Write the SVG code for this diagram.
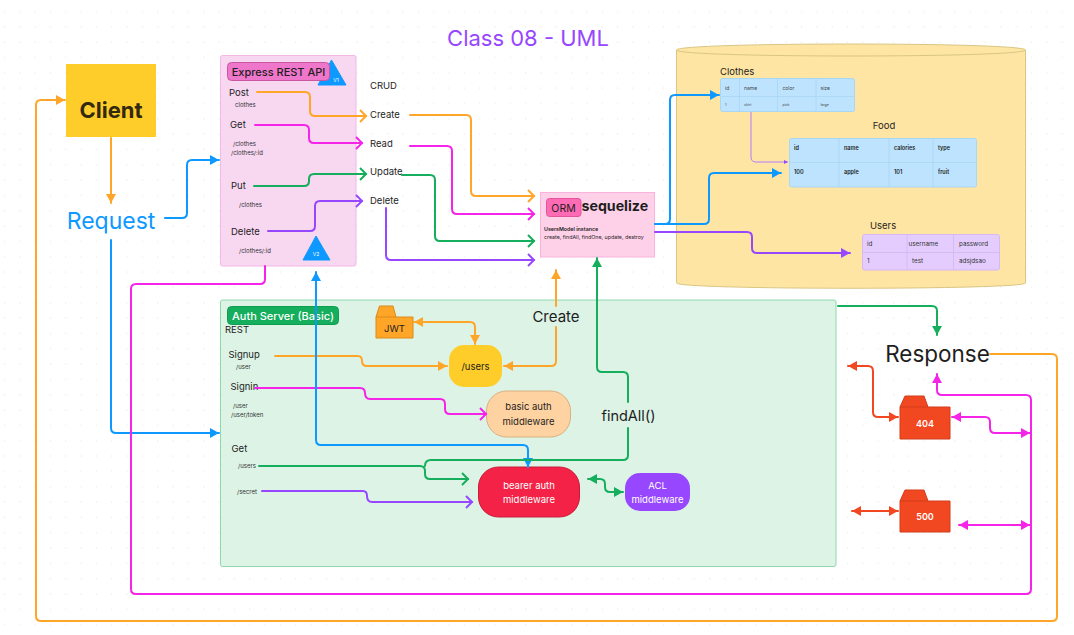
<svg xmlns="http://www.w3.org/2000/svg" width="1074" height="635" viewBox="0 0 1074 635">
<style>
text{font-family:Inter,"Liberation Sans",sans-serif;fill:#1e1e1e}
.c{text-anchor:middle}
.l{font-size:9.500px}
.s{font-size:6px;fill:#333}
.w{fill:#fff}
.e{fill:none;stroke-width:2;stroke-linecap:round;stroke-linejoin:round}
.bl{stroke:#0d99ff}.or{stroke:#ffa629}.gr{stroke:#14ae5c}.mg{stroke:#f524e8}.pu{stroke:#9747ff}.re{stroke:#f24822}
.fb{marker-end:url(#fb)}.fo{marker-end:url(#fo)}.fg{marker-end:url(#fg)}.fm{marker-end:url(#fm)}.fp{marker-end:url(#fp)}.fr{marker-end:url(#fr)}
.oo{marker-end:url(#oo)}.og{marker-end:url(#og)}.om{marker-end:url(#om)}.op{marker-end:url(#op)}
.grid{stroke:#a9d5f5;stroke-width:.8}
.t1{font-size:5px;fill:#444}.t3{font-size:3.500px;fill:#444}.t4{font-size:5.500px;font-weight:600}.t2{font-size:6.300px;fill:#333}
</style>
<defs>
<pattern id="dots" width="15.33" height="15.33" patternUnits="userSpaceOnUse"><rect x="4" y="11" width="1" height="1" fill="#dedede"/></pattern>
<marker id="fb" markerUnits="userSpaceOnUse" markerWidth="12" markerHeight="12" refX="10" refY="6" orient="auto-start-reverse"><path d="M1,1L10,6L1,11Z" fill="#0d99ff"/></marker>
<marker id="fo" markerUnits="userSpaceOnUse" markerWidth="12" markerHeight="12" refX="10" refY="6" orient="auto-start-reverse"><path d="M1,1L10,6L1,11Z" fill="#ffa629"/></marker>
<marker id="fg" markerUnits="userSpaceOnUse" markerWidth="12" markerHeight="12" refX="10" refY="6" orient="auto-start-reverse"><path d="M1,1L10,6L1,11Z" fill="#14ae5c"/></marker>
<marker id="fm" markerUnits="userSpaceOnUse" markerWidth="12" markerHeight="12" refX="10" refY="6" orient="auto-start-reverse"><path d="M1,1L10,6L1,11Z" fill="#f524e8"/></marker>
<marker id="fp" markerUnits="userSpaceOnUse" markerWidth="12" markerHeight="12" refX="10" refY="6" orient="auto-start-reverse"><path d="M1,1L10,6L1,11Z" fill="#9747ff"/></marker>
<marker id="fr" markerUnits="userSpaceOnUse" markerWidth="12" markerHeight="12" refX="10" refY="6" orient="auto-start-reverse"><path d="M1,1L10,6L1,11Z" fill="#f24822"/></marker>
<marker id="fs" markerUnits="userSpaceOnUse" markerWidth="6" markerHeight="6" refX="5" refY="3" orient="auto"><path d="M1,1L5,3L1,5Z" fill="#9747ff"/></marker>
<marker id="oo" markerUnits="userSpaceOnUse" markerWidth="12" markerHeight="16" refX="10" refY="8" orient="auto"><path d="M4,2L10,8L4,14" fill="none" stroke="#ffa629" stroke-width="2"/></marker>
<marker id="og" markerUnits="userSpaceOnUse" markerWidth="12" markerHeight="16" refX="10" refY="8" orient="auto"><path d="M4,2L10,8L4,14" fill="none" stroke="#14ae5c" stroke-width="2"/></marker>
<marker id="om" markerUnits="userSpaceOnUse" markerWidth="12" markerHeight="16" refX="10" refY="8" orient="auto"><path d="M4,2L10,8L4,14" fill="none" stroke="#f524e8" stroke-width="2"/></marker>
<marker id="op" markerUnits="userSpaceOnUse" markerWidth="12" markerHeight="16" refX="10" refY="8" orient="auto"><path d="M4,2L10,8L4,14" fill="none" stroke="#9747ff" stroke-width="2"/></marker>
</defs>
<rect width="1074" height="635" fill="#fff"/>
<rect width="1074" height="635" fill="url(#dots)"/>
<text id="title" x="528" y="46" class="c" style="font-size:22px;fill:#9747ff">Class 08 - UML</text>

<g id="database">
<path d="M676.500,50C676.500,42 1025.500,42 1025.500,50V283C1025.500,290 676.500,290 676.500,283Z" fill="#ffe5a3" stroke="#d9c684"/>
<path d="M676.500,50C676.500,58 1025.500,58 1025.500,50" fill="none" stroke="#d9c684"/>
</g>
<g id="client"><rect x="66" y="64" width="90" height="73" fill="#ffcd29"/><text x="111" y="118" class="c" style="font-size:22px;font-weight:700;fill:#33290f">Client</text></g>
<text id="request" x="111" y="229" class="c" style="font-size:23px;fill:#0d99ff">Request</text>

<g id="express">
<rect x="220.500" y="55.500" width="135.500" height="210.500" rx="2" fill="#f8d7f1" stroke="#f2b8e6"/>
<path d="M331.500,60L346,85H318Z" fill="#0d99ff" stroke="#0d99ff" stroke-linejoin="round"/>
<text x="336" y="82" class="c w" style="font-size:5px">V1</text>
<rect x="227.500" y="62.500" width="102" height="18" rx="4" fill="#ef77cb" stroke="#c9579f"/>
<text x="278.500" y="76" class="c" style="font-size:11px;font-weight:500">Express REST API</text>
<text x="229" y="96" class="l">Post</text><text x="235" y="107" class="s">clothes</text>
<text x="230" y="128" class="l">Get</text><text x="233" y="146" class="s">/clothes</text><text x="231" y="155" class="s">/clothes/:id</text>
<text x="231" y="189" class="l">Put</text><text x="239" y="207" class="s">/clothes</text>
<text x="231" y="235" class="l">Delete</text><text x="239" y="253" class="s">/clothes/:id</text>
<path d="M316,236L330,260H303Z" fill="#0d99ff" stroke="#0d99ff" stroke-linejoin="round"/>
<text x="316" y="256" class="c w" style="font-size:5px">V2</text>
</g>
<g id="crud">
<text x="370" y="89" class="l">CRUD</text><text x="370" y="118" class="l">Create</text><text x="370" y="147" class="l">Read</text><text x="370" y="175" class="l">Update</text><text x="370" y="204" class="l">Delete</text>
</g>

<g id="auth-server">
<rect x="220.500" y="300" width="615.500" height="266.500" rx="2" fill="#dcf3e6" stroke="#8fd8ae"/>
<rect x="227.500" y="306.500" width="111" height="18" rx="4" fill="#14ae5c" stroke="#0f9d50"/>
<text x="283" y="320" class="c w" style="font-size:11px;font-weight:500">Auth Server (Basic)</text>
<text x="225" y="333" class="l">REST</text>
<text x="228.500" y="358" class="l">Signup</text><text x="236" y="369" class="s">/user</text>
<text x="230.500" y="390" class="l">Signin</text><text x="233" y="408" class="s">/user</text><text x="231" y="417" class="s">/user/token</text>
<text x="231.500" y="452" class="l">Get</text><text x="238" y="468" class="s">/users</text><text x="237" y="494" class="s">/secret</text>
</g>
<g id="jwt">
<path d="M376,317L379.500,306H393L396,317H413V338H376Z" fill="#ffa629" stroke="#d98a1a" stroke-linejoin="round"/><path d="M376,317H396" stroke="#d98a1a"/>
<text x="394.500" y="332" class="c" style="font-size:9.500px">JWT</text>
</g>
<g id="users-node"><rect x="449" y="345" width="53" height="42" rx="15" fill="#ffcd29"/><text x="475.500" y="370" class="c" style="font-size:9.500px">/users</text></g>
<g id="basic-auth"><rect x="486.500" y="391" width="84" height="46" rx="20" fill="#ffd3a1" stroke="#d9b080"/><text x="528.500" y="410" class="c" style="font-size:9.500px">basic auth</text><text x="528.500" y="424.500" class="c" style="font-size:9.500px">middleware</text></g>
<g id="bearer-auth"><rect x="478.500" y="467" width="101" height="50" rx="20" fill="#f32246" stroke="#c91c3a"/><text x="529" y="488.500" class="c w" style="font-size:9.500px">bearer auth</text><text x="529" y="503" class="c w" style="font-size:9.500px">middleware</text></g>
<g id="acl"><rect x="625" y="473" width="65" height="38" rx="15" fill="#9747ff"/><text x="657.500" y="489" class="c w" style="font-size:9.500px">ACL</text><text x="657.500" y="503" class="c w" style="font-size:9.500px">middleware</text></g>
<text id="create-label" x="556" y="322" class="c" style="font-size:15px">Create</text>
<text id="findall-label" x="628.500" y="421" class="c" style="font-size:14.500px">findAll()</text>

<g id="sequelize">
<rect x="540.500" y="192.500" width="114" height="64.500" fill="#ffd1e9" stroke="#f9b3dc"/>
<text x="581.500" y="211" style="font-size:14.200px;font-weight:700">sequelize</text>
<rect x="546.500" y="198.500" width="34.500" height="18" rx="3" fill="#ff6bb5" stroke="#e0559c"/>
<text x="563.500" y="212" class="c" style="font-size:10.500px">ORM</text>
<text x="544" y="231" style="font-size:5.300px;font-weight:600">UsersModel instance</text>
<text x="544" y="239" style="font-size:5.300px">create, findAll, findOne, update, destroy</text>
</g>

<g id="clothes-table">
<text x="720" y="75" class="l">Clothes</text>
<rect x="720.500" y="78.500" width="134" height="33" rx="2" fill="#bde3ff" stroke="#a8d6f5"/>
<path class="grid" d="M720.500,96.500H854.500M739.500,78.500V111.500M777.500,78.500V111.500M816,78.500V111.500"/>
<text x="725" y="90" class="t1">id</text><text x="744" y="90" class="t1">name</text><text x="782.500" y="90" class="t1">color</text><text x="820.500" y="90" class="t1">size</text>
<text x="725" y="106" class="t3">1</text><text x="744" y="106" class="t3">shirt</text><text x="782.500" y="106" class="t3">pink</text><text x="820.500" y="106" class="t3">large</text>
</g>
<g id="food-table">
<text x="884" y="129" class="c l">Food</text>
<rect x="789.500" y="138.500" width="187" height="48.500" rx="2" fill="#bde3ff" stroke="#a8d6f5"/>
<path class="grid" d="M789.500,162.500H976.500M839,138.500V187M889,138.500V187M933,138.500V187"/>
<text x="794" y="150" class="t4">id</text><text x="844" y="150" class="t4">name</text><text x="894" y="150" class="t4">calories</text><text x="938" y="150" class="t4">type</text>
<text x="794" y="174" class="t4">100</text><text x="844" y="174" class="t4">apple</text><text x="894" y="174" class="t4">101</text><text x="938" y="174" class="t4">fruit</text>
</g>
<g id="users-table">
<text x="870" y="229" class="l">Users</text>
<rect x="862.500" y="234.500" width="137" height="35.500" rx="2" fill="#e4ccff" stroke="#d6b8f5"/>
<path d="M862.500,252.500H999.500M907,234.500V270M953.500,234.500V270" stroke="#d2b6f0" stroke-width=".8"/>
<text x="867" y="245.500" class="t2">id</text><text x="908.500" y="245.500" class="t2">username</text><text x="959" y="245.500" class="t2">password</text>
<text x="867" y="263" class="t2">1</text><text x="912" y="263" class="t2">test</text><text x="959" y="263" class="t2">adsjdsao</text>
</g>
<text id="response" x="937.500" y="362" class="c" style="font-size:22.500px">Response</text>
<g id="folder-404">
<path d="M900,407L905,396H924L928,407H950V439H900Z" fill="#f24822" stroke="#d13c1a" stroke-linejoin="round"/><path d="M900,407H928" stroke="#d13c1a"/>
<text x="925" y="427" class="c w" style="font-size:9px;font-weight:600">404</text>
</g>
<g id="folder-500">
<path d="M900,501L905,490H924L928,501H950V532H900Z" fill="#f24822" stroke="#d13c1a" stroke-linejoin="round"/><path d="M900,501H928" stroke="#d13c1a"/>
<text x="925" y="520" class="c w" style="font-size:9px;font-weight:600">500</text>
</g>

<g id="connectors">
<path class="e or fo" d="M111,138V203"/>
<path class="e bl fb" d="M165,218H182Q187,218 187,213V165Q187,160 192,160H219"/>
<path class="e bl fb" d="M111,240V428Q111,433 116,433H219"/>
<path class="e or fo" d="M990,354H1052Q1057,354 1057,359V616Q1057,621 1052,621H41Q36,621 36,616V105Q36,100 41,100H65"/>
<path class="e mg fm" d="M265,266V279Q265,284 260,284H136Q131,284 131,289V589Q131,594 136,594H1026Q1031,594 1031,589V400Q1031,395 1026,395H942Q937,395 937,390V374"/>
<path class="e or oo" d="M257,92H305Q310,92 310,97V111Q310,116 315,116H366"/>
<path class="e mg om" d="M255,125H304Q309,125 309,130V138Q309,143 314,143H362"/>
<path class="e gr og" d="M254,186H304Q309,186 309,181V179Q309,174 314,174H366"/>
<path class="e pu op" d="M268,231H310Q315,231 315,226V206Q315,201 320,201H362"/>
<path class="e or oo" d="M410,115H466Q471,115 471,120V191Q471,196 476,196H534"/>
<path class="e mg om" d="M410,146H447Q452,146 452,151V209Q452,214 457,214H534"/>
<path class="e gr og" d="M402,175H430Q435,175 435,180V236Q435,241 440,241H534"/>
<path class="e pu op" d="M386,208V255Q386,260 391,260H534"/>
<path class="e bl fb" d="M655,224H665Q670,224 670,219V100Q670,95 675,95H719"/>
<path class="e bl fb" d="M655,224H704Q709,224 709,219V178Q709,173 714,173H781"/>
<path class="e pu fp" d="M655,232H747Q752,232 752,237V248Q752,253 757,253H850"/>
<path d="M751,112V157Q751,162 756,162H788" fill="none" stroke="#b57bff" marker-end="url(#fs)"/>
<path class="e or fo" d="M275,356H358Q362,356 362,361Q362,366 367,366H447"/>
<path class="e or fo" d="M556,327V361Q556,366 551,366H504"/>
<path class="e or fo" d="M556,306V270"/>
<path class="e or fo" d="M414,322H470Q475,322 475,327V344" marker-start="url(#fo)"/>
<path class="e mg om" d="M255,388H360Q365,388 365,393Q365,399 370,399H440Q445,399 445,404V409Q445,414 450,414H486"/>
<path class="e bl fb" d="M316,272V440Q316,445 321,445H523Q528,445 528,450V467" marker-start="url(#fb)"/>
<path class="e gr og" d="M259,466H420Q425,466 425,471V474Q425,479 430,479H468"/>
<path class="e gr" d="M425,466Q425,460 431,460H623Q628,460 628,455V428"/>
<path class="e gr fg" d="M628,402V377Q628,372 623,372H602Q597,372 597,367V258"/>
<path class="e pu op" d="M262,491H363Q367,491 367,496Q367,502 372,502H472"/>
<path class="e gr fg" d="M588,479H600Q605,479 605,484V487Q605,492 610,492H623" marker-start="url(#fg)"/>
<path class="e gr fg" d="M838,306H932Q937,306 937,311V335"/>
<path class="e re fr" d="M848,366H868Q873,366 873,371V412Q873,417 878,417H898" marker-start="url(#fr)"/>
<path class="e re fr" d="M852,511H898" marker-start="url(#fr)"/>
<path class="e mg fm" d="M952,417H985Q990,417 990,422V428Q990,433 995,433H1030" marker-start="url(#fm)"/>
<path class="e mg fm" d="M959,525H1030" marker-start="url(#fm)"/>
</g>
</svg>
